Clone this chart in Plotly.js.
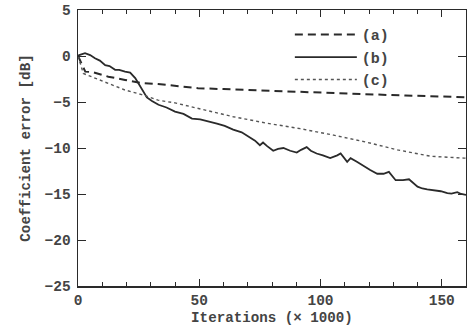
<!DOCTYPE html>
<html>
<head>
<meta charset="utf-8">
<script src="https://cdn.plot.ly/plotly-3.0.1.min.js"></script>
<style>html,body{margin:0;padding:0;background:#fff;}#chart{width:467px;height:331px;}</style>
</head>
<body>
<div id="chart"></div>
<script>
// Curve (a) - dashed
const xA = [0, 1, 2, 3, 6, 12.5, 19.4, 26.3, 33, 40, 49.5, 60, 75, 90, 105, 120, 135, 150, 160];
const yA = [0, -0.6, -1.3, -1.7, -1.75, -2.25, -2.6, -2.95, -3.05, -3.25, -3.5, -3.6, -3.75, -3.9, -4.05, -4.2, -4.3, -4.4, -4.5];

// Curve (b) - solid
const xB = [0, 0.5, 2.9, 5, 7, 9, 11.2, 13, 15.3, 17, 19.4, 21.5, 23.6, 26.3, 28.4, 30.5, 33.2, 36.5, 40, 43.5, 47, 50.4, 54, 57.3, 60.5, 64, 67.5, 70.9, 73, 75, 76.3, 78, 80.5, 82.5, 84.7, 87.5, 90.2, 92, 94.3, 96, 98.4, 101, 104, 106.9, 108.3, 111, 112.4, 115, 117.9, 120.5, 123.4, 126, 128.2, 131, 134, 136.5, 140, 142, 144, 147, 149.6, 152.3, 154, 156.4, 158, 160];
const yB = [0, 0.1, 0.3, 0.1, -0.25, -0.5, -1.0, -1.1, -1.5, -1.5, -1.7, -1.8, -2.4, -3.6, -4.5, -4.9, -5.3, -5.6, -6.05, -6.3, -6.8, -6.9, -7.1, -7.35, -7.6, -8.0, -8.3, -8.8, -9.2, -9.7, -9.4, -9.8, -10.3, -10.1, -10.0, -10.3, -10.5, -10.2, -9.9, -10.3, -10.6, -10.8, -11.1, -10.8, -10.6, -11.5, -11.1, -11.5, -12.0, -12.4, -12.8, -12.8, -12.6, -13.5, -13.5, -13.4, -14.2, -14.4, -14.5, -14.6, -14.7, -14.9, -14.95, -14.8, -15.0, -15.1];

// Curve (c) - dotted
const xC = [0, 1, 2.2, 7, 12.5, 19.4, 26.3, 33, 40, 49.5, 64, 77.8, 91.6, 105.4, 117.9, 131.7, 145.5, 159.2, 160];
const yC = [0, -1.0, -1.9, -2.4, -2.95, -3.7, -4.2, -4.8, -5.1, -5.7, -6.6, -7.3, -7.9, -8.6, -9.3, -10.2, -10.9, -11.1, -11.1];

const names = ['(a)', '(b)', '(c)'];
const fontFam = 'Liberation Mono, Courier New, monospace';
const ink = '#2a2a2a';
const txt = '#444';

const traces = [
  {x: xA, y: yA, name: names[0], mode: 'lines', line: {color: ink, width: 2, dash: '8px,5px'}},
  {x: xB, y: yB, name: names[1], mode: 'lines', line: {color: ink, width: 1.8}},
  {x: xC, y: yC, name: names[2], mode: 'lines', line: {color: '#555', width: 1.4, dash: 'dot'}}
];

const layout = {
  width: 467, height: 331,
  margin: {l: 78, r: 1, t: 10, b: 45},
  paper_bgcolor: '#fff', plot_bgcolor: '#fff',
  font: {family: fontFam, color: txt, size: 14, weight: 'bold'},
  showlegend: true,
  legend: {x: 0.546, y: 0.97, xanchor: 'left', yanchor: 'top', bgcolor: 'rgba(0,0,0,0)',
           font: {family: fontFam, size: 15, color: txt, weight: 'bold'}, itemwidth: 62, tracegroupgap: 0},
  xaxis: {
    range: [0, 160], dtick: 50, tick0: 0,
    ticks: 'inside', ticklen: 7, tickwidth: 1, tickcolor: ink,
    minor: {dtick: 10, ticks: 'inside', ticklen: 4, tickcolor: ink},
    showline: true, linecolor: ink, linewidth: 1.5, mirror: 'ticks',
    showgrid: false, zeroline: false,
    tickfont: {family: fontFam, size: 14.5, color: txt, weight: 'bold'},
    title: {text: 'Iterations (× 1000)', font: {family: fontFam, size: 14.2, color: txt, weight: 'bold'}, standoff: 4}
  },
  yaxis: {
    range: [-25, 5], dtick: 5, tick0: 0,
    ticks: 'inside', ticklen: 8, tickwidth: 1, tickcolor: ink,
    showline: true, linecolor: ink, linewidth: 1.5, mirror: 'ticks',
    showgrid: false, zeroline: false,
    ticklabelstandoff: 3,
    tickfont: {family: fontFam, size: 14.5, color: txt, weight: 'bold'},
    title: {text: 'Coefficient error [dB]', font: {family: fontFam, size: 14.2, color: txt, weight: 'bold'}, standoff: 10}
  }
};

Plotly.newPlot('chart', traces, layout, {staticPlot: true, displayModeBar: false});
</script>
</body>
</html>
